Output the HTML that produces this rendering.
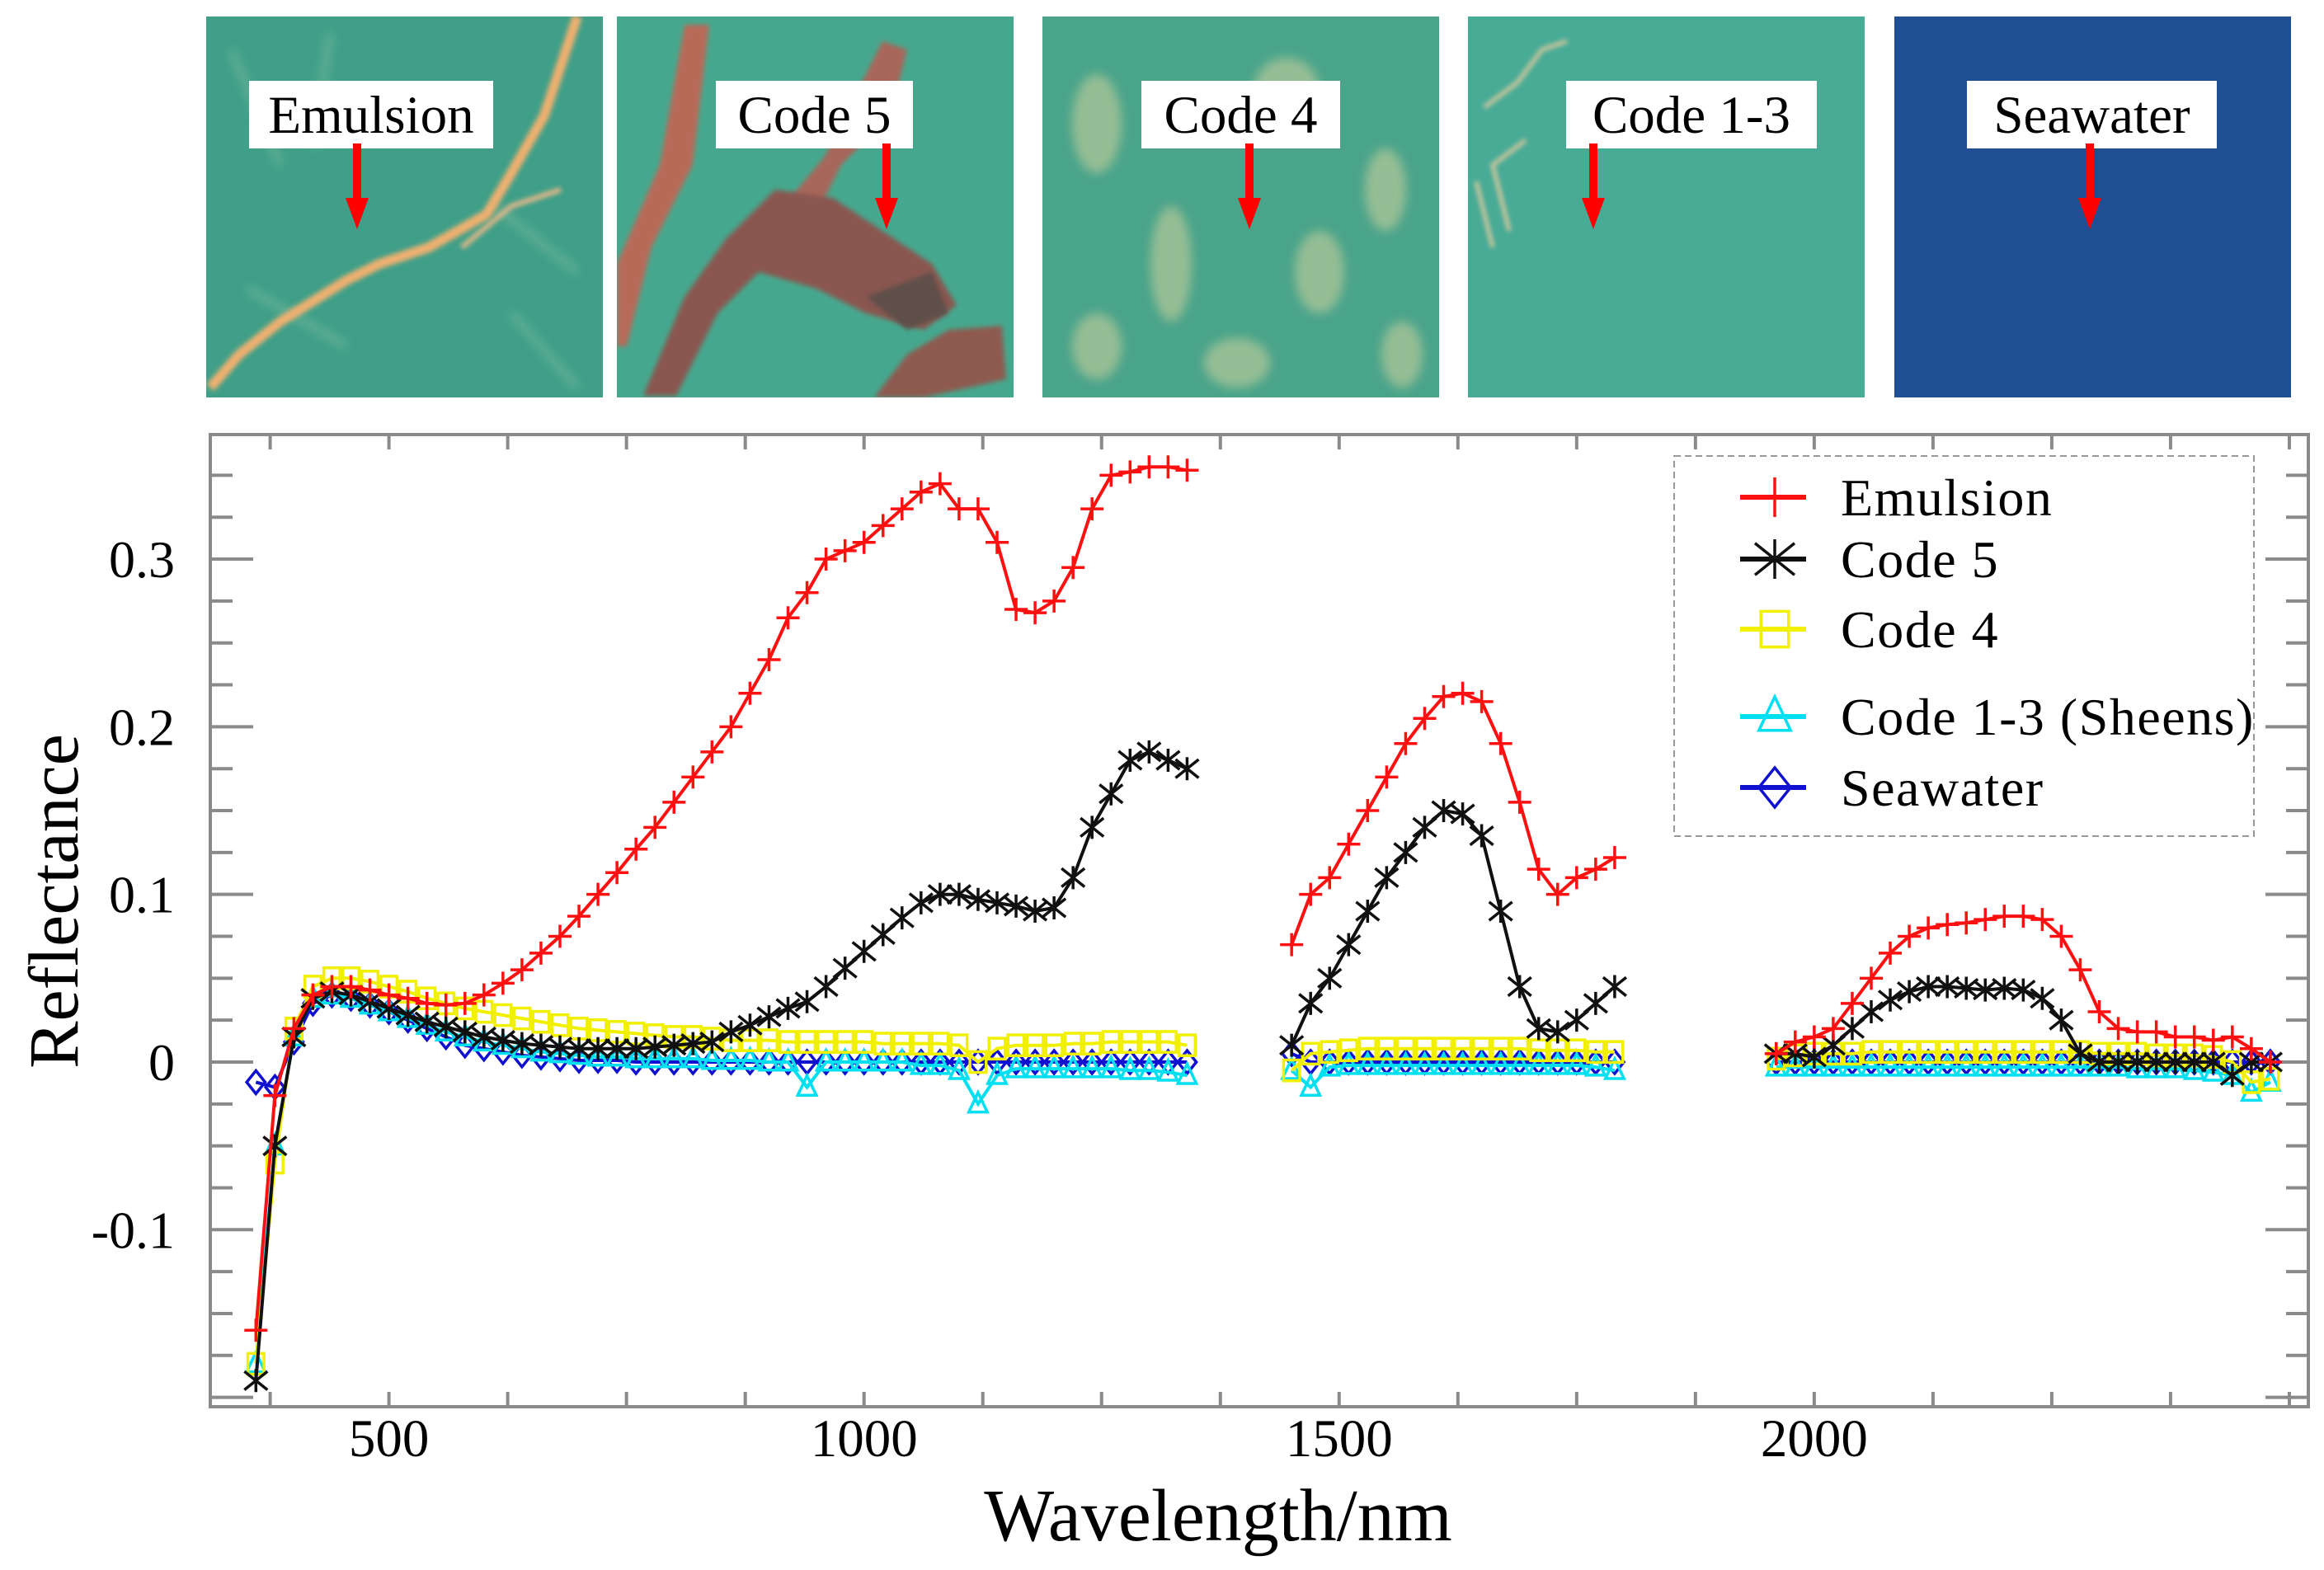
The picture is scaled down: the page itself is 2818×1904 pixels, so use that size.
<!DOCTYPE html>
<html><head><meta charset="utf-8">
<style>
html,body{margin:0;padding:0;background:#fff;}
svg{display:block;font-family:"Liberation Serif",serif;}
</style></head>
<body>
<svg id="fig" width="2818" height="1904" viewBox="0 0 2818 1904" xmlns="http://www.w3.org/2000/svg">
<defs>
<filter id="blur6"><feGaussianBlur stdDeviation="6"/></filter>
<filter id="blur3"><feGaussianBlur stdDeviation="3"/></filter>
<clipPath id="c1"><rect x="250" y="20" width="481" height="462"/></clipPath>
<clipPath id="c2"><rect x="748" y="20" width="481" height="462"/></clipPath>
<clipPath id="c3"><rect x="1264" y="20" width="481" height="462"/></clipPath>
<clipPath id="c4"><rect x="1780" y="20" width="481" height="462"/></clipPath>
</defs>
<g id="photos">
 <g clip-path="url(#c1)">
  <rect x="250" y="20" width="481" height="462" fill="#3f9f88"/>
  <g filter="url(#blur6)" opacity="0.5" stroke="#8fc4a0" stroke-width="8" fill="none">
   <path d="M280 60 L340 200 M400 40 L380 180 M600 250 L700 330 M300 350 L420 420 M620 380 L700 470"/>
  </g>
  <path d="M700 20 L660 140 L620 210 L590 260 L520 300 L460 320 L420 340 L340 390 L290 430 L255 470" stroke="#f0b070" stroke-width="12" fill="none" filter="url(#blur3)"/>
  <path d="M560 300 L620 250 L680 230" stroke="#e6b888" stroke-width="6" fill="none" filter="url(#blur3)"/>
 </g>
 <g clip-path="url(#c2)">
  <rect x="748" y="20" width="481" height="462" fill="#45a88e"/>
  <path d="M830 30 L860 30 L840 200 L790 300 L760 420 L748 420 L748 320 L800 200 Z" fill="#b86a58" filter="url(#blur3)"/>
  <path d="M1070 50 L1100 60 L1080 140 L1020 200 L990 260 L950 250 L1000 190 Z" fill="#a8665a" filter="url(#blur3)"/>
  <path d="M940 230 L1010 240 L1070 280 L1130 320 L1160 370 L1120 400 L1050 380 L990 350 L920 330 L870 380 L820 480 L780 480 L830 360 L880 290 Z" fill="#8a5650" filter="url(#blur3)"/>
  <path d="M1050 360 L1130 330 L1150 380 L1100 400 Z" fill="#5e5048" filter="url(#blur3)"/>
  <path d="M1150 400 L1215 395 L1220 460 L1120 482 L1060 482 L1100 430 Z" fill="#8e5a50" filter="url(#blur3)"/>
 </g>
 <g clip-path="url(#c3)">
  <rect x="1264" y="20" width="481" height="462" fill="#4aa48a"/>
  <g filter="url(#blur6)" fill="#a8c498" opacity="0.8">
   <ellipse cx="1330" cy="150" rx="30" ry="60"/><ellipse cx="1420" cy="320" rx="25" ry="70"/>
   <ellipse cx="1600" cy="330" rx="30" ry="50"/><ellipse cx="1560" cy="110" rx="40" ry="40"/>
   <ellipse cx="1680" cy="230" rx="25" ry="50"/><ellipse cx="1330" cy="420" rx="30" ry="40"/>
   <ellipse cx="1500" cy="440" rx="40" ry="30"/><ellipse cx="1700" cy="430" rx="25" ry="40"/>
  </g>
 </g>
 <g clip-path="url(#c4)">
  <rect x="1780" y="20" width="481" height="462" fill="#48ab96"/>
  <path d="M1800 130 L1840 100 L1870 60 L1900 50 M1830 280 L1810 200 L1850 170 M1790 220 L1810 300" stroke="#d4c89c" stroke-width="5" fill="none" filter="url(#blur3)"/>
 </g>
 <rect x="2297" y="20" width="481" height="462" fill="#1f4f92"/>
</g>
<g id="labels"></g>
<g id="chart"></g>
</svg>
<script>
// ---------- chart data ----------
const seg1X = [360,380,400,420,440,460,480,500,520,540,560,580,600,620,640,660,680,700,720,740,760,780,800,820,840,860,880,900,920,940,960,980,1000,1020,1040,1060,1080,1100,1120,1140,1160,1180,1200,1220,1240,1260,1280,1300,1320,1340];
const seg2X = [1450,1470,1490,1510,1530,1550,1570,1590,1610,1630,1650,1670,1690,1710,1730,1750,1770,1790];
const seg3X = [1960,1980,2000,2020,2040,2060,2080,2100,2120,2140,2160,2180,2200,2220,2240,2260,2280,2300,2320,2340,2360,2380,2400,2420,2440,2460,2480];

const emulsion1 = [-0.16,-0.02,0.02,0.04,0.045,0.045,0.043,0.04,0.038,0.035,0.034,0.035,0.04,0.047,0.055,0.065,0.075,0.087,0.1,0.113,0.127,0.14,0.155,0.17,0.185,0.2,0.22,0.24,0.265,0.28,0.3,0.305,0.31,0.32,0.33,0.34,0.345,0.33,0.33,0.31,0.27,0.268,0.275,0.295,0.33,0.35,0.352,0.355,0.355,0.353];
const emulsion2 = [0.07,0.1,0.11,0.13,0.15,0.17,0.19,0.205,0.218,0.22,0.215,0.19,0.155,0.115,0.1,0.11,0.115,0.122];
const emulsion3 = [0.005,0.012,0.015,0.02,0.035,0.05,0.065,0.075,0.08,0.082,0.083,0.085,0.087,0.087,0.085,0.075,0.055,0.03,0.02,0.018,0.018,0.015,0.015,0.013,0.015,0.008,0.0];

const code5_1 = [-0.19,-0.05,0.015,0.038,0.042,0.04,0.036,0.032,0.028,0.024,0.021,0.018,0.015,0.013,0.011,0.01,0.009,0.008,0.008,0.008,0.008,0.009,0.01,0.011,0.012,0.018,0.022,0.027,0.032,0.036,0.045,0.056,0.066,0.076,0.086,0.095,0.1,0.1,0.097,0.095,0.093,0.09,0.092,0.11,0.14,0.16,0.18,0.185,0.18,0.175];
const code5_2 = [0.01,0.035,0.05,0.07,0.09,0.11,0.125,0.14,0.15,0.148,0.135,0.09,0.045,0.02,0.018,0.025,0.035,0.045];
const code5_3 = [0.005,0.005,0.003,0.01,0.02,0.03,0.037,0.042,0.045,0.045,0.044,0.043,0.044,0.043,0.038,0.025,0.005,0.0,0.0,0.0,0.0,0.0,0.0,0.0,-0.008,0.0,0.0];

const code4_1 = [-0.18,-0.06,0.02,0.045,0.05,0.05,0.048,0.045,0.042,0.038,0.035,0.032,0.03,0.028,0.026,0.024,0.022,0.02,0.019,0.018,0.017,0.016,0.015,0.015,0.014,0.013,0.013,0.013,0.012,0.012,0.012,0.012,0.012,0.011,0.011,0.011,0.011,0.01,0.0,0.008,0.01,0.01,0.01,0.011,0.011,0.012,0.012,0.012,0.012,0.01];
const code4_2 = [-0.005,0.005,0.006,0.007,0.008,0.008,0.008,0.008,0.008,0.008,0.008,0.008,0.008,0.007,0.007,0.007,0.006,0.006];
const code4_3 = [0.002,0.004,0.005,0.005,0.005,0.006,0.006,0.006,0.006,0.006,0.006,0.006,0.006,0.006,0.006,0.006,0.006,0.005,0.005,0.005,0.004,0.004,0.004,0.003,0.0,-0.012,-0.01];

const sheens1 = [-0.18,-0.05,0.015,0.038,0.04,0.038,0.034,0.03,0.026,0.022,0.018,0.015,0.012,0.01,0.008,0.006,0.005,0.004,0.003,0.003,0.002,0.002,0.002,0.002,0.001,0.001,0.001,0.0,0.0,-0.015,0.0,0.0,0.0,0.0,0.0,-0.002,-0.002,-0.005,-0.025,-0.008,-0.004,-0.004,-0.004,-0.004,-0.004,-0.004,-0.005,-0.005,-0.006,-0.008];
const sheens2 = [-0.005,-0.015,-0.003,-0.002,-0.002,-0.002,-0.002,-0.002,-0.002,-0.002,-0.002,-0.002,-0.002,-0.002,-0.002,-0.002,-0.003,-0.005];
const sheens3 = [-0.003,-0.003,-0.003,-0.003,-0.003,-0.003,-0.003,-0.003,-0.003,-0.003,-0.003,-0.003,-0.003,-0.003,-0.003,-0.003,-0.003,-0.003,-0.003,-0.004,-0.004,-0.004,-0.005,-0.006,-0.008,-0.018,-0.012];

const sea1 = [-0.012,-0.015,0.012,0.035,0.04,0.038,0.034,0.03,0.025,0.02,0.015,0.01,0.008,0.006,0.004,0.003,0.002,0.001,0.001,0.001,0.0,0.0,0.0,0.0,0.0,0.0,0.0,0.0,0.0,0.0,0.0,0.0,0.0,0.0,0.0,0.0,0.0,0.0,0.0,0.0,0.0,0.0,0.0,0.0,0.0,0.0,0.0,0.0,0.0,0.0];
const sea2 = [0.005,0.0,0.0,0.0,0.0,0.0,0.0,0.0,0.0,0.0,0.0,0.0,0.0,0.0,0.0,0.0,0.0,0.0];
const sea3 = [0.0,0.0,0.0,0.0,0.0,0.0,0.0,0.0,0.0,0.0,0.0,0.0,0.0,0.0,0.0,0.0,0.0,0.0,0.0,0.0,0.0,0.0,0.0,0.0,0.0,0.0,0.0];

const yTickValues = [0.3,0.2,0.1,0,-0.1];
const yTickLabels = ["0.3","0.2","0.1","0","-0.1"];
const xTickValues = [500,1000,1500,2000];
const xTickLabels = ["500","1000","1500","2000"];
const legendLabels = ["Emulsion","Code 5","Code 4","Code 1-3 (Sheens)","Seawater"];
const photoLabels = ["Emulsion","Code 5","Code 4","Code 1-3","Seawater"];

// ---------- layout ----------
const NS = "http://www.w3.org/2000/svg";
const L = 255, R = 2799, T = 527, B = 1706;
const X0 = 312, X1 = 2520, Y0 = -0.2056, Y1 = 0.3743;
function sx(v){ return L + (v - X0) / (X1 - X0) * (R - L); }
function sy(v){ return B - (v - Y0) / (Y1 - Y0) * (B - T); }
function mk(tag, attrs, parent){
  const e = document.createElementNS(NS, tag);
  for (const k in attrs) e.setAttribute(k, attrs[k]);
  parent.appendChild(e);
  return e;
}
const chart = document.getElementById('chart');

// photo labels and arrows
const labelBoxes = [[302,296],[868,239],[1384,241],[1899,304],[2385,303]];
const arrowX = [433,1075,1515,1932,2534];
const lg = document.getElementById('labels');
photoLabels.forEach((t,i)=>{
  const b = mk('rect',{x:labelBoxes[i][0],y:98,width:labelBoxes[i][1],height:82,fill:'#fff'},lg);
  
  
  const tx = mk('text',{x:labelBoxes[i][0]+labelBoxes[i][1]/2,y:161,'text-anchor':'middle','font-size':65,fill:'#000'},lg);
  tx.textContent = t;
  
  
  const a = mk('g',{},lg);
  
  
  mk('rect',{x:arrowX[i]-5,y:174,width:10,height:70,fill:'#f00'},a);
  mk('polygon',{points:`${arrowX[i]-14},240 ${arrowX[i]+14},240 ${arrowX[i]},278`,fill:'#f00'},a);
});

// plot frame
const frame = mk('rect',{x:L,y:T,width:R-L,height:B-T,fill:'none',stroke:'#8a8a8a','stroke-width':4},chart);



const ticks = mk('g',{stroke:'#8a8a8a','stroke-width':4},chart);


for (let k=-8;k<=14;k++){
  const v = k*0.025, y = sy(v);
  if (y < T+5 || y > B-5) continue;
  const major = (k % 4 === 0);
  const len = major ? 52 : 27;
  mk('line',{x1:L,y1:y,x2:L+len,y2:y},ticks);
  mk('line',{x1:R,y1:y,x2:R-len,y2:y},ticks);
}
for (let v=375; v<X1; v+=125){
  const x = sx(v);
  mk('line',{x1:x,y1:B,x2:x,y2:B-18},ticks);
  mk('line',{x1:x,y1:T,x2:x,y2:T+18},ticks);
}
yTickValues.forEach((v,i)=>{
  const t = mk('text',{x:212,y:sy(v)+22,'text-anchor':'end','font-size':64,fill:'#000'},chart);
  t.textContent = yTickLabels[i];
  
  
});
xTickValues.forEach((v,i)=>{
  const t = mk('text',{x:sx(v),y:1766,'text-anchor':'middle','font-size':65,fill:'#000'},chart);
  t.textContent = xTickLabels[i];
  
  
});
const yt = mk('text',{x:0,y:0,'text-anchor':'middle','font-size':86,fill:'#000',transform:'translate(94,1093) rotate(-90)'},chart);
yt.textContent = 'Reflectance';


const xt = mk('text',{x:1477,y:1868,'text-anchor':'middle','font-size':90,fill:'#000'},chart);
xt.textContent = 'Wavelength/nm';



function marker(g, type, x, y, color, s, w){
  if (type==='plus'){
    mk('path',{d:`M${x-s} ${y}H${x+s}M${x} ${y-s}V${y+s}`,stroke:color,'stroke-width':w,fill:'none'},g);
  } else if (type==='star'){
    mk('path',{d:`M${x-s} ${y-s*0.8}L${x+s} ${y+s*0.8}M${x-s} ${y+s*0.8}L${x+s} ${y-s*0.8}M${x} ${y-s}V${y+s}`,stroke:color,'stroke-width':w,fill:'none'},g);
  } else if (type==='square'){
    mk('rect',{x:x-s*0.7,y:y-s*0.9,width:s*1.4,height:s*1.8,stroke:color,'stroke-width':w,fill:'none'},g);
  } else if (type==='tri'){
    mk('path',{d:`M${x} ${y-s}L${x+s*0.8} ${y+s*0.7}L${x-s*0.8} ${y+s*0.7}Z`,stroke:color,'stroke-width':w,fill:'none'},g);
  } else if (type==='diamond'){
    mk('path',{d:`M${x} ${y-s}L${x+s*0.8} ${y}L${x} ${y+s}L${x-s*0.8} ${y}Z`,stroke:color,'stroke-width':w,fill:'none'},g);
  }
}
const seriesDefs = [
  {name:'series-seawater', color:'#1010d0', type:'diamond', segs:[[seg1X,sea1],[seg2X,sea2],[seg3X,sea3]]},
  {name:'series-code1-3', color:'#00e0f0', type:'tri', segs:[[seg1X,sheens1],[seg2X,sheens2],[seg3X,sheens3]]},
  {name:'series-code4', color:'#f0f000', type:'square', segs:[[seg1X,code4_1],[seg2X,code4_2],[seg3X,code4_3]]},
  {name:'series-code5', color:'#101010', type:'star', segs:[[seg1X,code5_1],[seg2X,code5_2],[seg3X,code5_3]]},
  {name:'series-emulsion', color:'#ff1010', type:'plus', segs:[[seg1X,emulsion1],[seg2X,emulsion2],[seg3X,emulsion3]]}
];
seriesDefs.forEach(sd=>{
  const g = mk('g',{},chart);
  
  
  sd.segs.forEach(([xs,ys])=>{
    const d = xs.map((v,i)=>(i?'L':'M')+sx(v).toFixed(1)+' '+sy(ys[i]).toFixed(1)).join('');
    mk('path',{d:d,stroke:sd.color,'stroke-width':4,fill:'none'},g);
    xs.forEach((v,i)=>marker(g, sd.type, sx(v), sy(ys[i]), sd.color, 14, 3.5));
  });
});

const leg = mk('g',{},chart);


mk('rect',{x:2030,y:553,width:703,height:461,fill:'#fff',stroke:'#999','stroke-width':2,'stroke-dasharray':'8 5'},leg);
const legY = [603,678,763,869,955];
const legOrder = [4,3,2,1,0];
legendLabels.forEach((t,i)=>{
  const sd = seriesDefs[legOrder[i]];
  const e = mk('g',{},leg);
  
  
  mk('line',{x1:2110,y1:legY[i],x2:2190,y2:legY[i],stroke:sd.color,'stroke-width':6},e);
  marker(e, sd.type, 2152, legY[i], sd.color, 24, 3.5);
  const tx = mk('text',{x:2232,y:legY[i]+22,'font-size':64,'letter-spacing':'1.5',fill:'#000'},e);
  tx.textContent = t;
});
</script>
</body></html>
